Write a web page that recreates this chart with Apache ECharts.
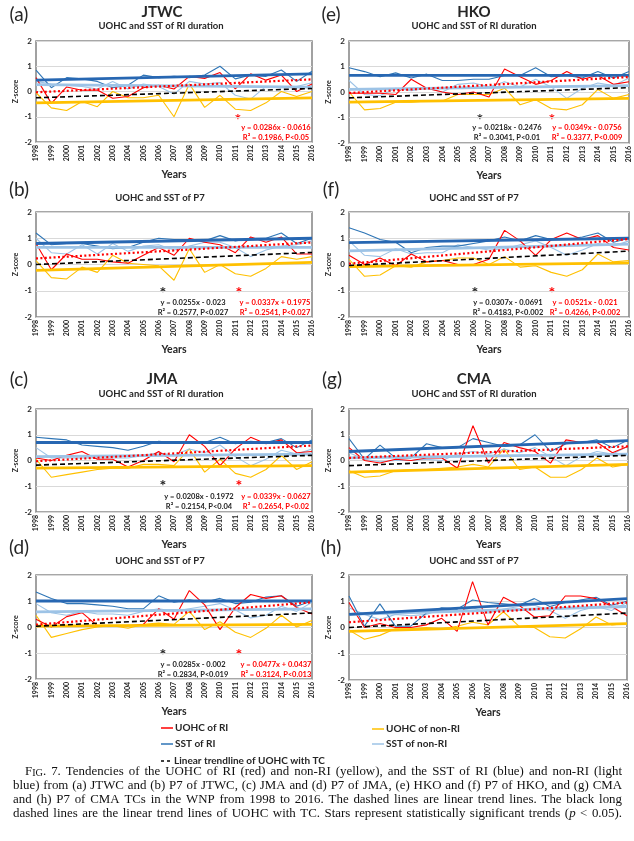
<!DOCTYPE html>
<html><head><meta charset="utf-8">
<script src="https://cdn.jsdelivr.net/npm/echarts@6/dist/echarts.min.js"></script>
<style>html,body{margin:0;padding:0;background:#fff}#c{width:634px;height:841px}</style>
</head><body><div id="c"></div>
<script>
// ---------- data ----------
const years = ['1998','1999','2000','2001','2002','2003','2004','2005','2006','2007','2008','2009','2010','2011','2012','2013','2014','2015','2016'];
const yMin = -2, yMax = 2, yStep = 1;

// (a) JTWC RI duration
const uohcRI_a    = [0.55,-0.47,0.18,0.05,0.06,-0.27,-0.2,0.15,0.25,0.1,0.6,0.52,0.75,0.1,0.7,0.45,0.65,0.0,0.3];
const uohcNonRI_a = [-0.05,-0.65,-0.75,-0.4,-0.6,0.0,-0.25,-0.25,-0.15,-1.0,0.3,-0.63,-0.15,-0.7,-0.75,-0.45,0.0,-0.2,0.0];
const sstRI_a     = [0.85,0.15,0.55,0.5,0.4,0.15,0.25,0.65,0.55,0.6,0.55,0.65,1.0,0.5,0.65,0.6,0.85,0.4,0.8];
const sstNonRI_a  = [0.4,0.3,0.25,0.2,0.1,0.4,0.1,0.3,0.2,-0.1,0.4,0.3,0.35,-0.15,-0.3,0.2,0.15,0.2,0.35];
const trendRed_a = [-0.03,0.48], trendBlack_a = [-0.25,0.12], trendBlue_a = [0.45,0.7], trendLB_a = [0.27,0.17], trendYel_a = [-0.45,-0.25];

// (e) HKO RI duration
const uohcRI_e    = [-0.05,-0.05,-0.05,-0.1,0.5,0.15,0.0,-0.1,0.0,-0.2,0.9,0.6,0.3,0.45,0.8,0.5,0.65,0.3,0.4];
const uohcNonRI_e = [0.0,-0.7,-0.65,-0.4,-0.4,-0.35,-0.35,-0.1,-0.1,-0.1,0.15,-0.5,-0.3,-0.65,-0.7,-0.5,0.1,-0.25,-0.1];
const sstRI_e     = [0.95,0.8,0.6,0.75,0.55,0.7,0.45,0.45,0.5,0.5,0.65,0.65,0.95,0.6,0.65,0.55,0.8,0.55,0.8];
const sstNonRI_e  = [0.45,-0.1,-0.15,0.15,0.05,0.15,0.0,0.3,0.35,0.2,0.4,0.2,0.5,0.2,-0.25,0.15,0.35,0.25,0.55];
const trendRed_e = [-0.04,0.59], trendBlack_e = [-0.23,0.17], trendBlue_e = [0.65,0.65], trendLB_e = [0.1,0.25], trendYel_e = [-0.4,-0.25];

// (b) JTWC P7
const uohcRI_b    = [0.8,-0.2,0.4,0.2,0.2,0.1,0.05,0.35,0.65,0.35,1.0,0.85,0.75,0.45,1.05,0.85,1.05,0.4,0.4];
const uohcNonRI_b = [0.15,-0.5,-0.55,-0.1,-0.3,0.35,0.05,0.0,-0.05,-0.6,0.6,-0.3,0.0,-0.35,-0.45,-0.15,0.3,0.2,0.3];
const sstRI_b     = [1.2,0.75,0.8,0.8,0.7,0.6,0.65,0.85,1.0,0.95,0.95,0.9,1.1,0.9,1.0,1.0,1.2,0.8,1.0];
const sstNonRI_b  = [1.0,0.45,0.4,0.75,0.4,0.8,0.5,0.7,0.75,0.55,0.7,0.85,0.85,0.65,0.3,0.55,0.7,0.75,0.9];
const trendRed_b = [0.23,0.84], trendBlack_b = [0.0,0.46], trendBlue_b = [0.8,1.0], trendLB_b = [0.65,0.65], trendYel_b = [-0.22,0.08];

// (f) HKO P7
const uohcRI_f    = [0.35,0.0,0.25,-0.05,0.4,0.1,0.15,0.0,0.0,0.2,1.3,0.9,0.35,0.95,1.2,0.95,1.1,0.65,0.55];
const uohcNonRI_f = [0.2,-0.45,-0.4,-0.05,-0.1,0.1,0.15,0.25,0.25,0.0,0.3,-0.1,-0.05,-0.3,-0.45,-0.2,0.4,0.1,0.15];
const sstRI_f     = [1.4,1.2,0.95,0.85,0.45,0.65,0.7,0.7,0.8,0.9,1.05,0.9,1.1,0.95,0.95,1.05,1.2,0.85,1.0];
const sstNonRI_f  = [0.9,0.35,0.3,0.6,0.4,0.45,0.45,0.75,0.65,0.55,0.6,0.75,0.9,0.65,0.35,0.55,0.8,0.7,0.9];
const trendRed_f = [0.03,0.97], trendBlack_f = [-0.04,0.51], trendBlue_f = [0.83,1.0], trendLB_f = [0.52,0.78], trendYel_f = [-0.08,0.06];

// (c) JMA RI duration
const uohcRI_c    = [0.1,0.0,0.2,0.35,0.05,0.05,-0.25,0.0,0.35,-0.05,1.0,0.55,-0.2,0.45,0.9,0.65,0.8,0.3,0.35];
const uohcNonRI_c = [0.05,-0.65,-0.55,-0.45,-0.35,-0.3,-0.3,-0.15,-0.15,-0.2,0.45,-0.45,0.05,-0.5,-0.65,-0.35,0.2,-0.35,-0.05];
const sstRI_c     = [0.9,0.85,0.8,0.6,0.55,0.5,0.4,0.55,0.75,0.7,0.7,0.7,0.9,0.65,0.75,0.7,0.85,0.5,0.8];
const sstNonRI_c  = [0.5,0.1,0.1,0.1,0.1,0.1,0.1,0.2,0.3,0.2,0.45,0.3,0.6,0.15,-0.2,0.05,0.4,0.25,0.45];
const trendRed_c = [-0.03,0.58], trendBlack_c = [-0.18,0.2], trendBlue_c = [0.7,0.7], trendLB_c = [0.15,0.25], trendYel_c = [-0.3,-0.2];

// (g) CMA RI duration
const uohcRI_g    = [0.5,0.0,-0.1,0.05,0.0,0.1,0.1,-0.3,1.35,-0.1,0.7,0.5,0.35,-0.1,0.8,0.7,0.7,0.3,0.55];
const uohcNonRI_g = [-0.4,-0.65,-0.6,-0.4,-0.35,-0.35,-0.3,-0.25,-0.15,-0.25,0.45,-0.35,-0.25,-0.65,-0.65,-0.35,0.1,-0.25,-0.15];
const sstRI_g     = [0.85,0.05,0.6,0.1,0.1,0.65,0.5,0.5,0.85,0.7,0.55,0.6,1.0,0.35,0.65,0.7,0.8,0.5,0.8];
const sstNonRI_g  = [0.3,0.05,-0.05,0.0,0.0,0.05,0.0,0.25,0.35,0.25,0.45,0.3,0.5,0.15,-0.2,0.15,0.35,0.25,0.55];
const trendRed_g = [0.1,0.55], trendBlack_g = [-0.2,0.2], trendBlue_g = [0.35,0.77], trendLB_g = [0.1,0.25], trendYel_g = [-0.45,-0.15];

// (d) JMA P7
const uohcRI_d    = [0.3,0.0,0.4,0.55,0.05,0.05,0.05,0.1,0.7,0.3,1.4,0.85,-0.1,0.75,1.25,1.1,1.2,0.75,0.5];
const uohcNonRI_d = [0.45,-0.4,-0.25,-0.1,0.0,0.05,-0.05,0.1,0.15,0.1,0.6,-0.1,0.2,-0.2,-0.4,-0.05,0.45,0.0,0.25];
const sstRI_d     = [1.35,1.1,0.9,0.9,0.85,0.8,0.7,0.7,1.2,0.95,1.05,0.95,1.1,0.9,0.95,1.15,1.2,0.8,1.0];
const sstNonRI_d  = [0.9,0.55,0.45,0.6,0.5,0.5,0.45,0.6,0.7,0.6,0.7,0.8,0.9,0.65,0.35,0.45,0.8,0.6,0.95];
const trendRed_d = [0.09,0.95], trendBlack_d = [0.03,0.54], trendBlue_d = [1.0,1.0], trendLB_d = [0.58,0.7], trendYel_d = [0.03,0.1];

// (h) CMA P7
const uohcRI_h    = [0.95,0.0,0.15,0.0,0.0,0.1,0.35,-0.15,1.75,0.1,1.15,0.85,0.4,0.45,1.2,1.2,1.1,0.8,0.45];
const uohcNonRI_h = [-0.1,-0.45,-0.3,-0.05,-0.05,0.0,-0.05,0.05,0.2,0.1,0.6,0.05,0.0,-0.35,-0.4,-0.05,0.4,0.1,0.15];
const sstRI_h     = [1.2,0.05,0.9,0.05,0.05,0.55,0.75,0.7,1.05,0.95,0.9,0.85,1.1,0.8,0.95,1.05,1.15,0.85,1.0];
const sstNonRI_h  = [0.75,0.5,0.3,0.5,0.45,0.5,0.7,0.6,0.75,0.55,0.7,0.8,0.85,0.65,0.35,0.65,0.8,0.65,0.95];
const trendRed_h = [0.2,0.95], trendBlack_h = [0.0,0.55], trendBlue_h = [0.5,1.1], trendLB_h = [0.5,0.8], trendYel_h = [-0.15,0.15];

// ---------- layout & style ----------
const FONT = 'Lato';
const C_RED = '#FF0000', C_YEL = '#FFC000', C_BLUE = '#2E75B6', C_BLUE_T = '#2767B2', C_LB = '#9DC3E6', C_TXT = '#262626';

const panels = [
  {id:'a', box:[36,41,312,142],  d:[uohcRI_a,uohcNonRI_a,sstRI_a,sstNonRI_a], t:[trendRed_a,trendBlack_a,trendBlue_a,trendLB_a,trendYel_a]},
  {id:'e', box:[349,41,629,143], d:[uohcRI_e,uohcNonRI_e,sstRI_e,sstNonRI_e], t:[trendRed_e,trendBlack_e,trendBlue_e,trendLB_e,trendYel_e]},
  {id:'b', box:[36,212,312,317], d:[uohcRI_b,uohcNonRI_b,sstRI_b,sstNonRI_b], t:[trendRed_b,trendBlack_b,trendBlue_b,trendLB_b,trendYel_b]},
  {id:'f', box:[349,212,629,317],d:[uohcRI_f,uohcNonRI_f,sstRI_f,sstNonRI_f], t:[trendRed_f,trendBlack_f,trendBlue_f,trendLB_f,trendYel_f]},
  {id:'c', box:[36,409,312,512], d:[uohcRI_c,uohcNonRI_c,sstRI_c,sstNonRI_c], t:[trendRed_c,trendBlack_c,trendBlue_c,trendLB_c,trendYel_c]},
  {id:'g', box:[349,409,628,512],d:[uohcRI_g,uohcNonRI_g,sstRI_g,sstNonRI_g], t:[trendRed_g,trendBlack_g,trendBlue_g,trendLB_g,trendYel_g]},
  {id:'d', box:[36,575,312,679], d:[uohcRI_d,uohcNonRI_d,sstRI_d,sstNonRI_d], t:[trendRed_d,trendBlack_d,trendBlue_d,trendLB_d,trendYel_d]},
  {id:'h', box:[349,575,627,680],d:[uohcRI_h,uohcNonRI_h,sstRI_h,sstNonRI_h], t:[trendRed_h,trendBlack_h,trendBlue_h,trendLB_h,trendYel_h]},
];

const grid = [], xAxis = [], yAxis = [], series = [];
panels.forEach((p, i) => {
  const [l, t, r, b] = p.box;
  grid.push({left:l, top:t, width:r-l, height:b-t, show:true, borderColor:'#8a8a8a', borderWidth:1.6, backgroundColor:'#fff', containLabel:false});
  xAxis.push({type:'category', gridIndex:i, data:years, boundaryGap:false,
    axisLine:{show:false}, axisTick:{show:false}, splitLine:{show:false},
    axisLabel:{rotate:90, interval:0, fontSize:7, fontWeight:'bold', fontFamily:FONT, color:C_TXT, margin:3},
    name:'Years', nameLocation:'middle', nameGap:27,
    nameTextStyle:{fontSize:10.5, fontWeight:'bold', fontFamily:FONT, color:C_TXT}});
  yAxis.push({type:'value', gridIndex:i, min:yMin, max:yMax, interval:yStep,
    axisLine:{show:false}, axisTick:{show:false},
    splitLine:{show:true, lineStyle:{color:'#d9d9d9', width:1}},
    axisLabel:{fontSize:8, fontWeight:'bold', fontFamily:FONT, color:C_TXT, margin:4},
    name:'Z-score', nameLocation:'middle', nameGap:17,
    nameTextStyle:{fontSize:7, fontWeight:'bold', fontFamily:FONT, color:C_TXT}});
  const base = {type:'line', xAxisIndex:i, yAxisIndex:i, showSymbol:false, symbol:'none', silent:true, animation:false};
  const [uRI, uNon, sRI, sNon] = p.d;
  series.push(Object.assign({}, base, {name:'UOHC of non-RI', data:uNon, lineStyle:{color:C_YEL, width:1.1}}));
  series.push(Object.assign({}, base, {name:'SST of non-RI', data:sNon, lineStyle:{color:C_LB, width:1.1}}));
  series.push(Object.assign({}, base, {name:'SST of RI', data:sRI, lineStyle:{color:C_BLUE, width:1.1}}));
  series.push(Object.assign({}, base, {name:'UOHC of RI', data:uRI, lineStyle:{color:C_RED, width:1.1}}));
  const [tR, tK, tB, tL, tY] = p.t;
  const ends = v => [[years[0], v[0]], [years[years.length-1], v[1]]];
  series.push(Object.assign({}, base, {name:'trend non-RI UOHC', data:ends(tY), lineStyle:{color:C_YEL, width:2.8}}));
  series.push(Object.assign({}, base, {name:'trend non-RI SST', data:ends(tL), lineStyle:{color:C_LB, width:2.8}}));
  series.push(Object.assign({}, base, {name:'trend RI SST', data:ends(tB), lineStyle:{color:C_BLUE_T, width:2.8}}));
  series.push(Object.assign({}, base, {name:'trend RI UOHC', data:ends(tR), lineStyle:{color:C_RED, width:2.2, type:[2,2.4]}}));
  series.push(Object.assign({}, base, {name:'Linear trendline of UOHC with TC', data:ends(tK), lineStyle:{color:'#000', width:1.6, type:[5,3]}}));
});

// ---------- text ----------
const graphic = [];
function txt(text, x, y, font, fill, align, valign) {
  graphic.push({type:'text', silent:true, style:{text:text, x:x, y:y, font:font, fill:fill||C_TXT,
    textAlign:align||'center', align:align||'center', textVerticalAlign:valign||'middle', verticalAlign:valign||'middle'}});
}
const titles = [
  ['(a)',19,15],['(e)',331,15],['(b)',19,190],['(f)',331,190],['(c)',19,380],['(g)',332,380],['(d)',19,548],['(h)',331,548]
];
titles.forEach(t => txt(t[0], t[1], t[2], '19px ' + FONT));
[['JTWC',162,12],['HKO',474,12],['JMA',162,379],['CMA',474,379]].forEach(t => txt(t[0], t[1], t[2], 'bold 15px ' + FONT));
[['UOHC and SST of RI duration',161,26],['UOHC and SST of RI duration',474,26],
 ['UOHC and SST of P7',160,198],['UOHC and SST of P7',474,198],
 ['UOHC and SST of RI duration',161,394],['UOHC and SST of RI duration',474,394],
 ['UOHC and SST of P7',160,561],['UOHC and SST of P7',474,561]].forEach(t => txt(t[0], t[1], t[2], 'bold 9.5px ' + FONT));

// significance annotations: [star x, star y, eq center x, line1 y, line2 y, eq1, eq2, color]
const notes = [
  [238,118,276,128,138,'y = 0.0286x - 0.0616','R² = 0.1986, P<0.05',C_RED],
  [480,118,507,128,138,'y = 0.0218x - 0.2476','R² = 0.3041, P<0.01','#222'],
  [552,118,587,128,138,'y = 0.0349x - 0.0756','R² = 0.3377, P<0.009',C_RED],
  [163,291,193,303,313,'y = 0.0255x - 0.023','R² = 0.2577, P<0.027','#222'],
  [239,291,275,303,313,'y = 0.0337x + 0.1975','R² = 0.2541, P<0.027',C_RED],
  [475,291,508,303,313,'y = 0.0307x - 0.0691','R² = 0.4183, P<0.002','#222'],
  [552,291,585,303,313,'y = 0.0521x - 0.021','R² = 0.4266, P<0.002',C_RED],
  [163,484,199,497,507,'y = 0.0208x - 0.1972','R² = 0.2154, P<0.04','#222'],
  [239,484,276,497,507,'y = 0.0339x - 0.0627','R² = 0.2654, P<0.02',C_RED],
  [163,653,193,665,675,'y = 0.0285x - 0.002','R² = 0.2834, P<0.019','#222'],
  [239,653,276,665,675,'y = 0.0477x + 0.0437','R² = 0.3124, P<0.013',C_RED],
];
notes.forEach(n => {
  txt('*', n[0], n[1] - 6, 'bold 16px ' + FONT, n[7], 'center', 'top');
  txt(n[5], n[2], n[3], 'bold 7.5px ' + FONT, n[7]);
  txt(n[6], n[2], n[4], 'bold 7.5px ' + FONT, n[7]);
});

// legend
const legendItems = [
  [161,173,728,C_RED,null,'UOHC of RI'],
  [161,173,744,C_BLUE,null,'SST of RI'],
  [161,172,761,'#000',[3,3],'Linear trendline of UOHC with TC'],
  [372,384,729,C_YEL,null,'UOHC of non-RI'],
  [372,384,744,C_LB,null,'SST of non-RI'],
];
legendItems.forEach(it => {
  graphic.push({type:'line', silent:true, shape:{x1:it[0], y1:it[2], x2:it[1], y2:it[2]},
    style:{stroke:it[3], lineWidth:1.5, lineDash:it[4]}});
  txt(it[5], it[1] + 2, it[2], 'bold 10px ' + FONT, C_TXT, 'left');
});

// caption (justified, word by word)
const SERIF = '"Liberation Serif"';
const capFont = '12.9px ' + SERIF, capSmall = '10.2px ' + SERIF, capItal = 'italic 12.9px ' + SERIF;
const capLines = [
  {x0:25, x1:622, y:773, text:'F|IG. 7. Tendencies of the UOHC of RI (red) and non-RI (yellow), and the SST of RI (blue) and non-RI (light'},
  {x0:13, x1:622, y:787, text:'blue) from (a) JTWC and (b) P7 of JTWC, (c) JMA and (d) P7 of JMA, (e) HKO and (f) P7 of HKO, and (g) CMA'},
  {x0:13, x1:622, y:801, text:'and (h) P7 of CMA TCs in the WNP from 1998 to 2016. The dashed lines are linear trend lines. The black long'},
  {x0:13, x1:622, y:815, text:'dashed lines are the linear trend lines of UOHC with TC. Stars represent statistically significant trends (§p < 0.05).'},
];
const cv = document.createElement('canvas').getContext('2d');
function measure(s, f) { cv.font = f; return cv.measureText(s).width; }
function fragments(word) {
  if (word.indexOf('F|') === 0) return [['F', capFont], ['IG', capSmall], [word.slice(4), capFont]];
  if (word.indexOf('(§') === 0) return [['(', capFont], ['p', capItal]];
  return [[word, capFont]];
}
capLines.forEach(L => {
  const words = L.text.split(' ').map(fragments);
  const widths = words.map(w => w.reduce((s, f) => s + measure(f[0], f[1]), 0));
  const total = widths.reduce((a, b) => a + b, 0);
  const gap = (L.x1 - L.x0 - total) / (words.length - 1);
  let x = L.x0;
  words.forEach((w, k) => {
    let fx = x;
    w.forEach(f => { if (f[0]) { txt(f[0], fx, L.y + 5, f[1], '#111', 'left', 'bottom'); fx += measure(f[0], f[1]); } });
    x += widths[k] + gap;
  });
});

const chart = echarts.init(document.getElementById('c'), null, {renderer:'canvas'});
chart.setOption({backgroundColor:'#fff', animation:false, grid, xAxis, yAxis, series, graphic});
</script>
</body></html>
